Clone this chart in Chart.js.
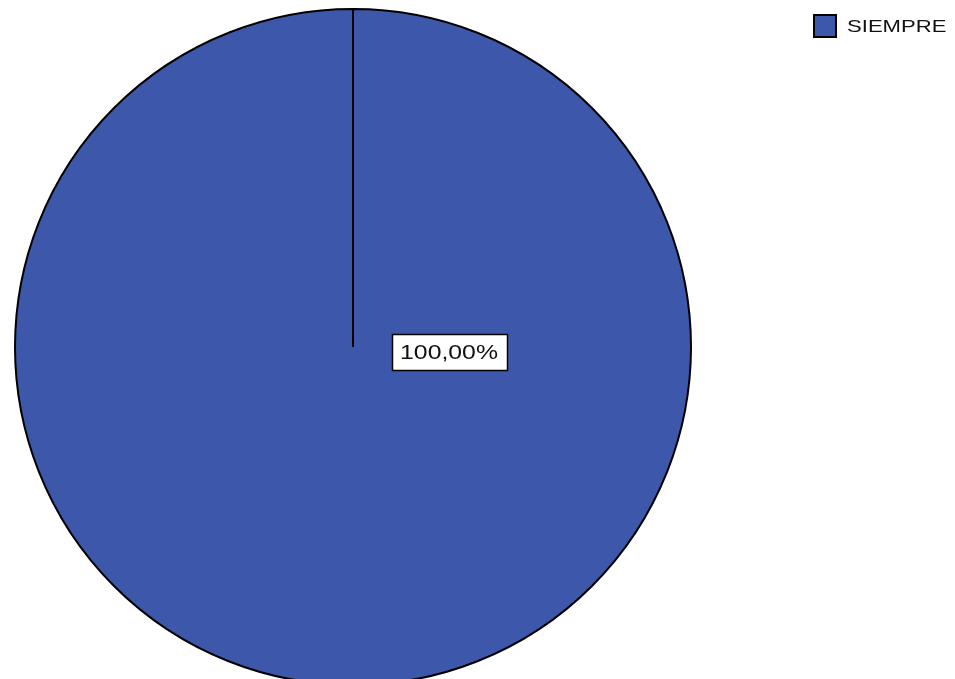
<!DOCTYPE html>
<html>
<head>
<meta charset="utf-8">
<script src="https://cdn.jsdelivr.net/npm/chart.js@4/dist/chart.umd.min.js"></script>
<style>
  html, body { margin: 0; padding: 0; background: #fff; overflow: hidden; }
  #wrap { width: 955px; height: 679px; overflow: hidden; }
</style>
</head>
<body>
<div id="wrap"><canvas id="pie" width="955" height="700"></canvas></div>
<script>
const categories = ['SIEMPRE'];
const percents   = [100];
const sliceColors = ['#3d58aa'];

// draws text stretched sideways, like the original export
function wideText(ctx, txt, x, y, sx) {
  ctx.save();
  ctx.translate(x, y);
  ctx.scale(sx, 1);
  ctx.fillText(txt, 0, 0);
  ctx.restore();
}

// value box next to the centre of the pie
const valueBox = {
  id: 'valueBox',
  afterDatasetsDraw(chart) {
    const arc = chart.getDatasetMeta(0).data[0];
    if (!arc) return;
    const ctx = chart.ctx;
    const txt = percents[0].toFixed(2).replace('.', ',') + '%';
    ctx.save();
    const w = 116, h = 37;
    const bx = arc.x + 39, by = arc.y - 13;
    ctx.fillStyle = '#fff';
    ctx.fillRect(bx, by, w, h);
    ctx.strokeStyle = '#000';
    ctx.lineWidth = 1.5;
    ctx.strokeRect(bx + 0.5, by + 0.5, w - 1, h - 1);
    ctx.fillStyle = '#111';
    ctx.font = '20px "Liberation Sans", Arial, sans-serif';
    ctx.textAlign = 'center';
    ctx.textBaseline = 'middle';
    wideText(ctx, txt, bx + w / 2 - 1, by + h / 2 + 1, 1.24);
    ctx.restore();
  }
};

// legend in the top-right corner
const sideLegend = {
  id: 'sideLegend',
  afterDraw(chart) {
    const ctx = chart.ctx;
    ctx.save();
    chart.data.labels.forEach((lab, i) => {
      const y = 15 + i * 28;
      ctx.fillStyle = sliceColors[i];
      ctx.fillRect(814, y, 22, 22);
      ctx.strokeStyle = '#000';
      ctx.lineWidth = 2;
      ctx.strokeRect(814, y, 22, 22);
      ctx.fillStyle = '#111';
      ctx.font = '17px "Liberation Sans", Arial, sans-serif';
      ctx.textBaseline = 'middle';
      wideText(ctx, lab, 847, y + 12, 1.3);
    });
    ctx.restore();
  }
};

new Chart(document.getElementById('pie'), {
  type: 'pie',
  data: {
    labels: categories,
    datasets: [{
      data: percents,
      backgroundColor: sliceColors,
      borderColor: '#000',
      borderWidth: 2
    }]
  },
  options: {
    responsive: false,
    animation: false,
    layout: { padding: { left: 12, top: 8, right: 261, bottom: 14 } },
    plugins: {
      legend: { display: false },
      tooltip: { enabled: false }
    }
  },
  plugins: [valueBox, sideLegend]
});
</script>
</body>
</html>
